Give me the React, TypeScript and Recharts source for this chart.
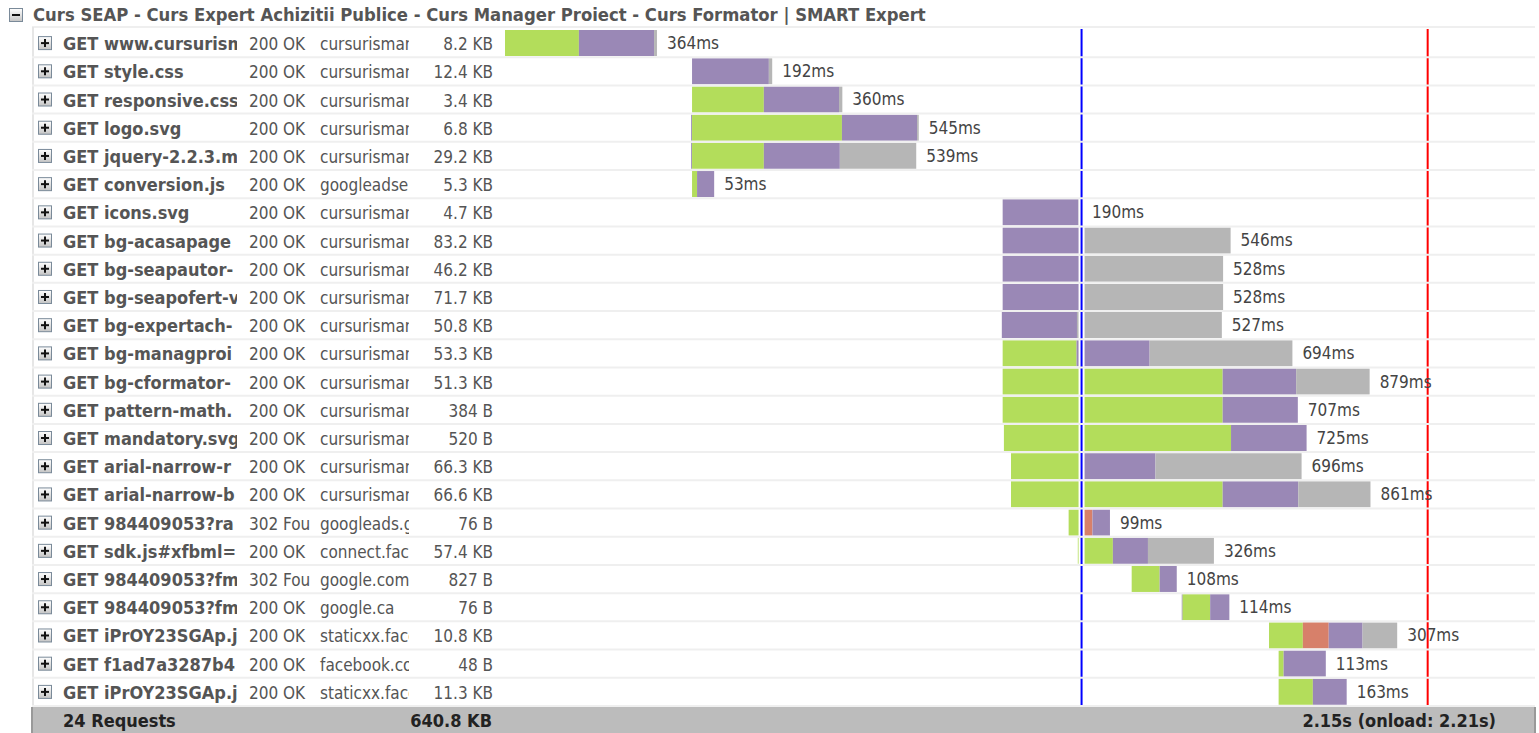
import React from 'react';
import { BarChart, Bar, XAxis, YAxis, ReferenceLine, LabelList } from 'recharts';

// names, statuses and domains are cut by their columns, as in the panel
const requests = [
  'GET www.cursurism', 'GET style.css', 'GET responsive.css', 'GET logo.svg',
  'GET jquery-2.2.3.m', 'GET conversion.js', 'GET icons.svg', 'GET bg-acasapage',
  'GET bg-seapautor-', 'GET bg-seapofert-v', 'GET bg-expertach-', 'GET bg-managproi',
  'GET bg-cformator-', 'GET pattern-math.', 'GET mandatory.svg', 'GET arial-narrow-r',
  'GET arial-narrow-b', 'GET 984409053?ra', 'GET sdk.js#xfbml=', 'GET 984409053?fm',
  'GET 984409053?fm', 'GET iPrOY23SGAp.j', 'GET f1ad7a3287b4', 'GET iPrOY23SGAp.j',
];
const statuses = [
  '200 OK', '200 OK', '200 OK', '200 OK', '200 OK', '200 OK', '200 OK', '200 OK',
  '200 OK', '200 OK', '200 OK', '200 OK', '200 OK', '200 OK', '200 OK', '200 OK',
  '200 OK', '302 Fou', '200 OK', '302 Fou', '200 OK', '200 OK', '200 OK', '200 OK',
];
const domains = [
  'cursurismart', 'cursurismart', 'cursurismart', 'cursurismart',
  'cursurismart', 'googleadserv', 'cursurismart', 'cursurismart',
  'cursurismart', 'cursurismart', 'cursurismart', 'cursurismart',
  'cursurismart', 'cursurismart', 'cursurismart', 'cursurismart',
  'cursurismart', 'googleads.g', 'connect.face', 'google.com',
  'google.ca', 'staticxx.face', 'facebook.com', 'staticxx.face',
];
const sizes = [
  '8.2 KB', '12.4 KB', '3.4 KB', '6.8 KB', '29.2 KB', '5.3 KB', '4.7 KB', '83.2 KB',
  '46.2 KB', '71.7 KB', '50.8 KB', '53.3 KB', '51.3 KB', '384 B', '520 B', '66.3 KB',
  '66.6 KB', '76 B', '57.4 KB', '827 B', '76 B', '10.8 KB', '48 B', '11.3 KB',
];
// timings in ms
const startMs = [0, 448, 448, 446, 446, 448, 1192, 1192, 1192, 1192, 1190, 1192, 1192, 1192, 1195, 1212, 1212, 1350, 1372, 1501, 1621, 1830, 1853, 1853];
const dnsMs = [0, 0, 0, 2, 2, 0, 0, 0, 0, 0, 0, 0, 0, 0, 0, 0, 0, 0, 0, 0, 2, 0, 0, 0];
const blockingMs = [177, 0, 172, 359, 172, 12, 0, 0, 0, 0, 0, 177, 527, 527, 544, 171, 507, 33, 84, 67, 66, 81, 12, 82];
const connectingMs = [0, 0, 0, 0, 0, 0, 0, 0, 0, 0, 0, 0, 0, 0, 0, 0, 0, 24, 0, 0, 0, 62, 0, 0];
const waitingMs = [180, 184, 180, 180, 182, 41, 182, 190, 190, 190, 180, 175, 176, 180, 181, 175, 181, 42, 84, 41, 46, 81, 101, 81];
const receivingMs = [7, 8, 8, 4, 183, 0, 8, 356, 338, 338, 347, 342, 176, 0, 0, 350, 173, 0, 158, 0, 0, 83, 0, 0];
const durations = ['364ms', '192ms', '360ms', '545ms', '539ms', '53ms', '190ms', '546ms', '528ms', '528ms', '527ms', '694ms', '879ms', '707ms', '725ms', '696ms', '861ms', '99ms', '326ms', '108ms', '114ms', '307ms', '113ms', '163ms'];
const domContentLoadedMs = 1381;
const onloadMs = 2210;

const title = 'Curs SEAP - Curs Expert Achizitii Publice - Curs Manager Proiect - Curs Formator | SMART Expert';
const footerCount = '24 Requests';
const footerSize = '640.8 KB';
const footerTime = '2.15s (onload: 2.21s)';

const FONT = '"DejaVu Sans Condensed", "DejaVu Sans", sans-serif';
const ROW_H = 28.2;

const data = requests.map((r, i) => ({
  row: `r${i}`,
  start: startMs[i],
  dns: dnsMs[i],
  blocking: blockingMs[i],
  connecting: connectingMs[i],
  waiting: waitingMs[i],
  receiving: receivingMs[i],
}));

const Expander = ({ x, y, minus }: { x: number; y: number; minus?: boolean }) => (
  <g>
    <defs>
      <linearGradient id="expGrad" x1="0" y1="0" x2="0" y2="1">
        <stop offset="0%" stopColor="#ffffff" />
        <stop offset="100%" stopColor="#c4c4c4" />
      </linearGradient>
    </defs>
    <rect x={x + 0.5} y={y + 0.5} width={13} height={13} fill="url(#expGrad)" stroke="#7a8a99" />
    <line x1={x + 3} x2={x + 11} y1={y + 7} y2={y + 7} stroke="#111" strokeWidth={2} />
    {!minus && <line x1={x + 7} x2={x + 7} y1={y + 3} y2={y + 11} stroke="#111" strokeWidth={2} />}
  </g>
);

const RowTick = (props: any) => {
  const { y, payload } = props;
  const i = parseInt(String(payload.value).slice(1), 10);
  const base = y + 7;
  return (
    <g fontFamily={FONT} fontSize={17} fill="#555">
      <defs>
        <clipPath id={`nm${i}`}><rect x={60} y={y - 14} width={177} height={28} /></clipPath>
        <clipPath id={`st${i}`}><rect x={246} y={y - 14} width={64} height={28} /></clipPath>
        <clipPath id={`dm${i}`}><rect x={318} y={y - 14} width={91} height={28} /></clipPath>
      </defs>
      <line x1={32} x2={1535} y1={y + ROW_H / 2} y2={y + ROW_H / 2} stroke="#efefef" strokeWidth={2} />
      <Expander x={38} y={y - 7} />
      <text x={63} y={base} fontWeight="bold" fontSize={18} clipPath={`url(#nm${i})`}>{requests[i]}</text>
      <text x={249} y={base} clipPath={`url(#st${i})`}>{statuses[i]}</text>
      <text x={320} y={base} clipPath={`url(#dm${i})`}>{domains[i]}</text>
      <text x={493} y={base} textAnchor="end">{sizes[i]}</text>
    </g>
  );
};

// the label hangs on the "waiting" segment (never empty); the receiving tail is added through the same linear scale
const renderDuration = (props: any) => {
  const { x, y, width, height, index } = props;
  const end = x + width * (waitingMs[index] + receivingMs[index]) / waitingMs[index];
  return (
    <text x={end + 10} y={y + height / 2 + 6} fontFamily={FONT} fontSize={17} fill="#444">
      {durations[index]}
    </text>
  );
};

export default function App() {
  return (
    <div style={{ position: 'absolute', left: 0, top: 0, width: 1539, height: 733, background: '#fff', overflow: 'hidden' }}>
      <div style={{ position: 'absolute', left: 9, top: 8 }}>
        <svg width={14} height={14}><Expander x={0} y={0} minus /></svg>
      </div>
      <div style={{ position: 'absolute', left: 33, top: 3, fontFamily: FONT, fontWeight: 'bold', fontSize: 18.3, color: '#555', whiteSpace: 'nowrap', lineHeight: '24px' }}>
        {title}
      </div>
      <div style={{ position: 'absolute', left: 32, top: 26, width: 1503, height: 2, background: '#efefef' }} />
      <div style={{ position: 'absolute', left: 32, top: 27, width: 2, height: 682, background: '#e6e6e6' }} />
      <div style={{ position: 'absolute', left: 0, top: 0 }}>
        <BarChart width={1539} height={733} data={data} layout="vertical" barSize={26}
          margin={{ top: 29, right: 32, bottom: 27, left: 0 }}>
          <XAxis type="number" domain={[0, 2400]} hide />
          <YAxis type="category" dataKey="row" width={505} axisLine={false} tickLine={false} interval={0} tick={RowTick} />
          <Bar dataKey="start" stackId="t" fill="transparent" isAnimationActive={false} />
          <Bar dataKey="dns" stackId="t" fill="#8f7fb0" isAnimationActive={false} />
          <Bar dataKey="blocking" stackId="t" fill="#b3dd5b" isAnimationActive={false} />
          <Bar dataKey="connecting" stackId="t" fill="#d7806a" isAnimationActive={false} />
          <Bar dataKey="waiting" stackId="t" fill="#9a88b6" isAnimationActive={false}>
            <LabelList dataKey="waiting" content={renderDuration} />
          </Bar>
          <Bar dataKey="receiving" stackId="t" fill="#b6b6b6" isAnimationActive={false} />
          <ReferenceLine x={domContentLoadedMs} stroke="#ffffff" strokeWidth={6} />
          <ReferenceLine x={domContentLoadedMs} stroke="#0000ff" strokeWidth={2} />
          <ReferenceLine x={onloadMs} stroke="#ffffff" strokeWidth={6} />
          <ReferenceLine x={onloadMs} stroke="#ff0000" strokeWidth={2} />
        </BarChart>
      </div>
      <div style={{ position: 'absolute', left: 31, top: 707, width: 1505, height: 26, background: '#bcbcbc', borderLeft: '2px solid #999', borderRight: '2px solid #999', boxSizing: 'border-box', fontFamily: FONT, fontWeight: 'bold', fontSize: 18, color: '#222' }}>
        <span style={{ position: 'absolute', left: 30, top: 3 }}>{footerCount}</span>
        <span style={{ position: 'absolute', right: 1536 - 494, top: 3 }}>{footerSize}</span>
        <span style={{ position: 'absolute', right: 1536 - 1498, top: 3 }}>{footerTime}</span>
      </div>
    </div>
  );
}
